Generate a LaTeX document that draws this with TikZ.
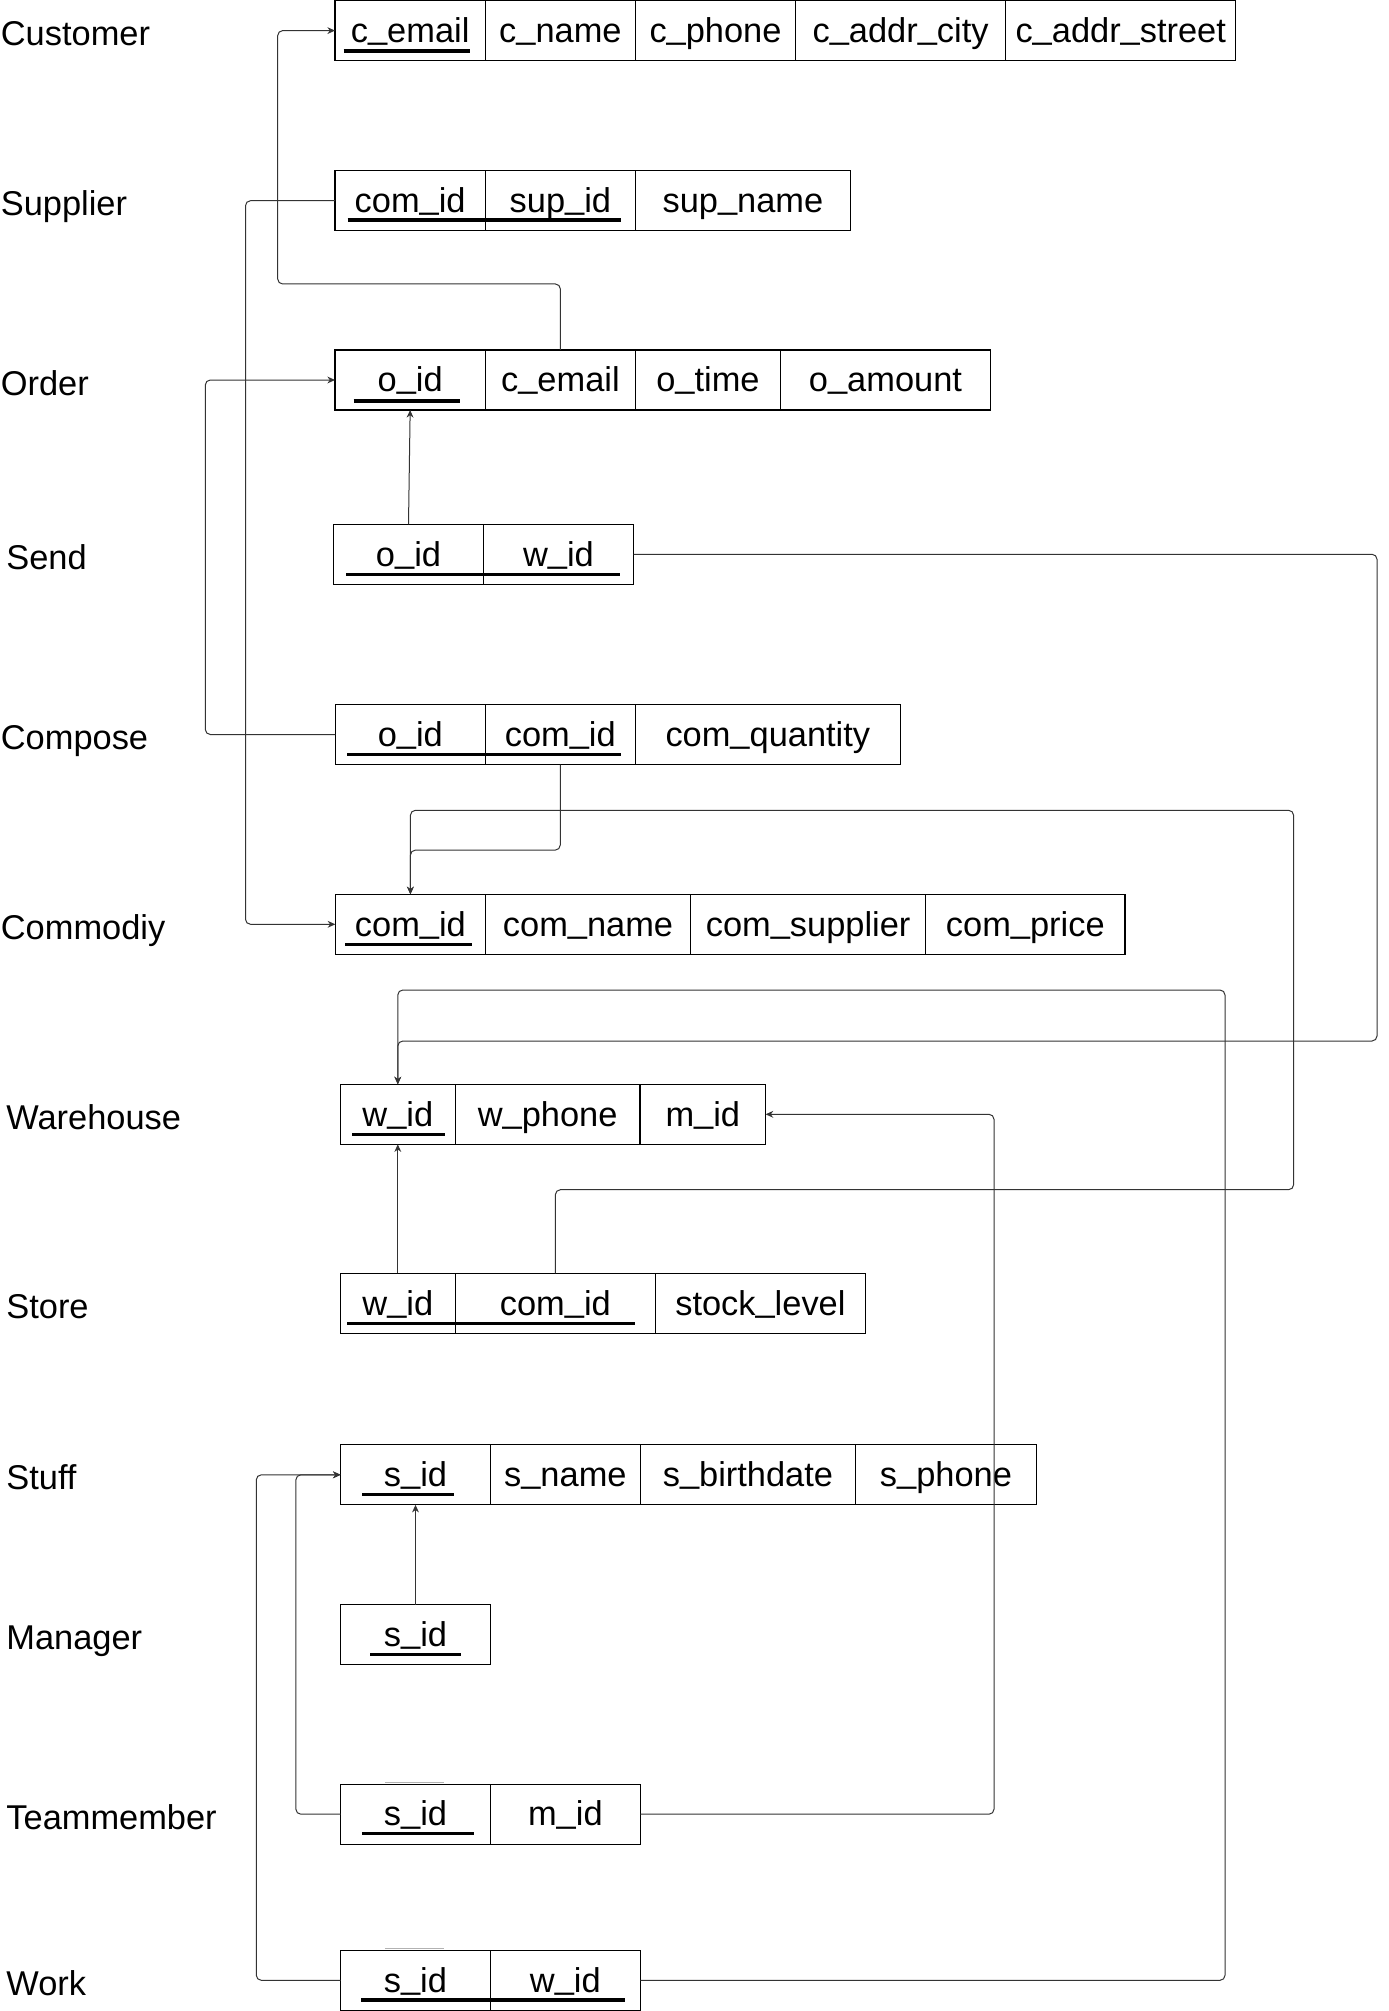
\documentclass[tikz,border=0pt]{standalone}
\usepackage{fontspec}
\setmainfont{Liberation Sans}
\usetikzlibrary{arrows.meta}
\tikzset{
  cellbox/.style={draw=black, line width=0.55pt, inner sep=0pt, outer sep=0pt,
    minimum height=30pt, text height=13.76pt, text depth=2.06pt,
    font=\fontsize{17.2}{20}\selectfont, anchor=north west},
  tbllabel/.style={inner sep=0pt, anchor=base west, font=\fontsize{17.2}{20}\selectfont},
  uline/.style={line width=1.6pt, black},
  ghost/.style={line width=0.6pt, black!30},
  conn/.style={draw=black!80, line width=0.5pt, rounded corners=2.5pt,
    -{Stealth[length=3.8pt,width=3.4pt,inset=1.2pt]}}
}
\newcommand\us{\raisebox{0.11em}{\_}}
\newcommand\rcell[5]{\node[cellbox, minimum width={(#3-#2)*0.5pt}] (#1) at (#2,#4) {#5};}
\newcommand\uln[3]{\draw[uline] (#1,#3) -- (#2,#3);}
\newcommand\tlbl[4]{\node[tbllabel] (#1) at (#2,{#3+45}) {#4};}
\begin{document}
\begin{tikzpicture}[x=0.5pt,y=-0.5pt]
\useasboundingbox (0,0) rectangle (1388,2011);

% labels
\tlbl{lcust}{0.5}{0.6}{Customer}
\tlbl{lsup}{0.5}{170.7}{Supplier}
\tlbl{lord}{0.5}{350}{Order}
\tlbl{lsend}{6}{524.3}{Send}
\tlbl{lcomp}{0.5}{704.5}{Compose}
\tlbl{lcomm}{0.5}{894.3}{Commodiy}
\tlbl{lware}{6}{1084.3}{Warehouse}
\tlbl{lstore}{6}{1273.3}{Store}
\tlbl{lstuff}{6}{1444.8}{Stuff}
\tlbl{lman}{6}{1604.6}{Manager}
\tlbl{lteam}{6}{1784.2}{Teammember}
\tlbl{lwork}{6}{1950.3}{Work}

% Customer
\rcell{c1}{335}{485.3}{0.6}{c\us email}
\rcell{c2}{485.3}{635.5}{0.6}{c\us name}
\rcell{c3}{635.5}{795.5}{0.6}{c\us phone}
\rcell{c4}{795.5}{1005.6}{0.6}{c\us addr\us city}
\rcell{c5}{1005.6}{1235.8}{0.6}{c\us addr\us street}
\uln{343.7}{470}{51}

% Supplier
\rcell{s1}{335}{485.3}{170.7}{com\us id}
\rcell{s2}{485.3}{635.5}{170.7}{sup\us id}
\rcell{s3}{635.5}{850.3}{170.7}{sup\us name}
\uln{347.7}{620.5}{220}

% Order
\rcell{o1}{335}{485.3}{350}{o\us id}
\rcell{o2}{485.3}{635.5}{350}{c\us email}
\rcell{o3}{635.5}{780.4}{350}{o\us time}
\rcell{o4}{780.4}{990.5}{350}{o\us amount}
\uln{353.5}{460}{401}

% Send
\rcell{d1}{333.5}{483.5}{524.3}{o\us id}
\rcell{d2}{483.5}{633.5}{524.3}{w\us id}
\uln{346.4}{620}{574.3}

% Compose
\rcell{p1}{335.3}{485.3}{704.5}{o\us id}
\rcell{p2}{485.3}{635.2}{704.5}{com\us id}
\rcell{p3}{635.2}{900.4}{704.5}{com\us quantity}
\uln{347.3}{621}{754.7}

% Commodiy
\rcell{m1}{335.3}{485.5}{894.3}{com\us id}
\rcell{m2}{485.5}{690.6}{894.3}{com\us name}
\rcell{m3}{690.6}{925.6}{894.3}{com\us supplier}
\rcell{m4}{925.6}{1125}{894.3}{com\us price}
\uln{345}{471.9}{944.7}

% Warehouse
\rcell{w1}{340.2}{455.4}{1084.3}{w\us id}
\rcell{w2}{455.4}{640}{1084.3}{w\us phone}
\rcell{w3}{640}{765.6}{1084.3}{m\us id}
\uln{352}{445}{1134.3}

% Store
\rcell{t1}{340.2}{455.4}{1273.3}{w\us id}
\rcell{t2}{455.4}{655.3}{1273.3}{com\us id}
\rcell{t3}{655.3}{865.5}{1273.3}{stock\us level}
\uln{347.2}{635.2}{1323.3}

% Stuff
\rcell{f1}{340.6}{490.4}{1444.8}{s\us id}
\rcell{f2}{490.4}{640.3}{1444.8}{s\us name}
\rcell{f3}{640.3}{855.5}{1444.8}{s\us birthdate}
\rcell{f4}{855.5}{1036.3}{1444.8}{s\us phone}
\uln{362.4}{454.3}{1494.3}

% Manager
\rcell{g1}{340.6}{490.4}{1604.6}{s\us id}
\uln{370}{461.2}{1654.5}

% Teammember
\rcell{r1}{340.6}{490.4}{1784.2}{s\us id}
\rcell{r2}{490.4}{640.3}{1784.2}{m\us id}
\uln{361.9}{474.4}{1833.3}
\draw[ghost] (384.8,1782.3) -- (444,1782.3);

% Work
\rcell{k1}{340.6}{490.3}{1950.3}{s\us id}
\rcell{k2}{490.3}{640.3}{1950.3}{w\us id}
\uln{361}{625}{2000}
\draw[ghost] (384.8,1948.4) -- (444,1948.4);

% connectors
\draw[conn] (o2.north) |- (277.7,284) |- (c1.west);
\draw[conn] (s1.west) -- ++(-89.5,0) |- (m1.west);
\draw[conn] (p1.west) -- ++(-130,0) |- (o1.west);
\draw[conn] (d1.north) -- (o1.south);
\draw[conn] (p2.south) |- ([yshift=22.1pt]m1.north) -- (m1.north);
\draw[conn] (t2.north) |- (1293.6,1189.7) |- ([yshift=42pt]m1.north) -- (m1.north);
\draw[conn] (d2.east) -| (1377,1041) -| (w1.north);
\draw[conn] (k2.east) -| (1225,990) -| (w1.north);
\draw[conn] (t1.north) -- (w1.south);
\draw[conn] (r2.east) -| (994,1114.3) -- (w3.east);
\draw[conn] (g1.north) -- (f1.south);
\draw[conn] (r1.west) -- ++(-44.7,0) |- (f1.west);
\draw[conn] (k1.west) -- ++(-84.3,0) |- (f1.west);
\end{tikzpicture}
\end{document}
